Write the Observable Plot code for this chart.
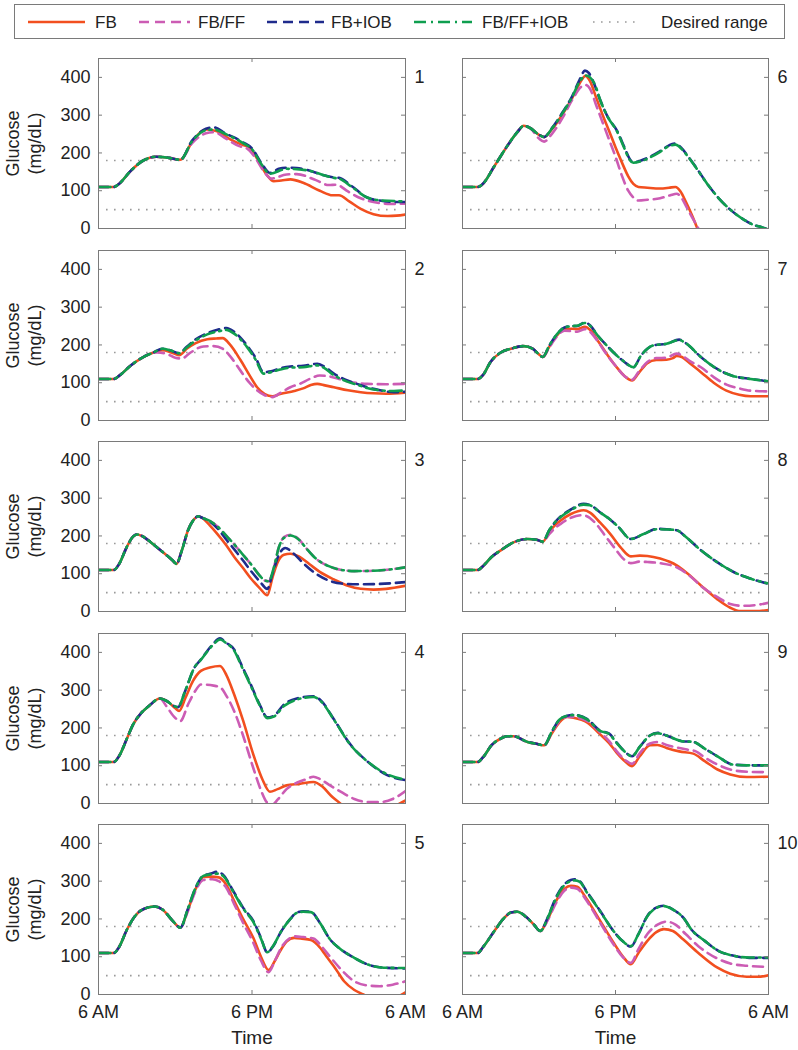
<!DOCTYPE html>
<html><head><meta charset="utf-8">
<script src="https://cdn.jsdelivr.net/npm/d3@7"></script>
<script src="https://cdn.jsdelivr.net/npm/@observablehq/plot@0.6"></script>
<style>
body{margin:0;background:#fff;font-family:"Liberation Sans",Arial,sans-serif;}
#root{position:relative;width:798px;height:1050px;overflow:hidden;}
#root svg.plot{position:absolute;}
#legend{position:absolute;left:14px;top:4px;width:771px;height:35px;border:1px solid #7a7a7a;box-sizing:border-box;background:#fff;}
</style></head>
<body><div id="root"><div id="legend"></div></div>
<script>
// ---------- series / legend ----------
const seriesNames = ["FB", "FB/FF", "FB+IOB", "FB/FF+IOB"];
const seriesColors = ["#f24f1f", "#cc5cb4", "#1f2b8c", "#0f9e4f"];
const seriesDash = [null, "10,6", "10,6", "12,5,2,5"];
const rangeName = "Desired range";
const desiredRange = [50, 180];
const yTicks = [0, 100, 200, 300, 400];
const xTicks = [0, 12, 24];
const xTickLabels = ["6 AM", "6 PM", "6 AM"];
const panelNumbers = [1, 2, 3, 4, 5, 6, 7, 8, 9, 10];

// ---------- data: [hours after 6 AM, glucose mg/dL] ----------
// Panel 1
const p1Start = [[0,110],[1.2,110],[1.6,118],[2.5,152],[3.5,180],[4.5,190],[5.5,187],[6.4,182]];
const p1FB = [[7.3,228],[8.4,262],[9.2,258],[10.3,236],[11.2,222],[11.8,215],[12.4,185],[13.2,140],[13.7,125],[14.3,127],[15.0,130],[16.0,121],[17.3,100],[18.3,88],[18.8,88],[19.6,72],[20.5,52],[21.5,38],[22.6,33],[23.3,34],[24,37]];
const p1FBFF = [[7.3,225],[8.4,252],[9.0,255],[10.0,237],[11.0,218],[11.6,212],[12.2,190],[13.0,148],[13.5,132],[14.7,143],[15.5,144],[17.0,128],[18.0,115],[18.6,116],[19.5,98],[20.5,80],[21.5,70],[22.8,65],[24,66]];
const p1FBIOB = [[7.3,232],[8.4,264],[9.0,268],[10.0,250],[10.6,241],[11.3,228],[12.0,212],[12.7,175],[13.4,147],[14.1,158],[14.7,161],[15.5,160],[16.3,155],[17.5,142],[18.4,135],[18.8,134],[19.8,112],[21.0,82],[22.2,73],[23.6,70],[24,70]];
const p1FBFFIOB = [[7.3,230],[8.4,260],[9.0,262],[10.0,249],[11.3,226],[12.0,210],[12.7,172],[13.4,145],[14.7,158],[16.3,154],[18.4,134],[18.8,132],[19.8,110],[21.0,82],[22.2,74],[24,72]];
// Panel 2
const p2Start = [[0,110],[1.2,110],[1.6,118],[2.5,145],[3.5,168],[4.3,180]];
const p2FB = [[5.0,186],[5.7,180],[6.3,173],[6.9,190],[7.6,205],[8.5,215],[9.2,217],[9.7,218],[10.3,200],[11.1,160],[11.8,120],[12.4,88],[13.0,70],[13.6,64],[14.2,70],[15.3,78],[16.0,85],[16.6,94],[17.1,97],[17.7,93],[18.4,88],[19.5,80],[20.5,75],[21.5,72],[22.5,71],[24,74]];
const p2FBFF = [[4.6,180],[5.3,177],[6.0,166],[6.5,164],[7.2,180],[8.2,196],[9.0,197],[9.7,190],[10.3,170],[11.1,132],[11.8,100],[12.4,80],[13.0,67],[13.6,62],[14.3,75],[15.0,88],[15.8,98],[16.5,110],[17.3,119],[18.0,117],[18.8,110],[19.7,102],[21.0,97],[22.5,96],[24,97]];
const p2FBIOB = [[5.0,190],[5.6,186],[6.3,178],[6.9,195],[7.6,215],[8.5,231],[9.3,240],[10.0,245],[10.6,235],[11.6,199],[12.3,165],[12.9,128],[13.5,130],[14.2,138],[15.0,143],[16.0,145],[17.1,150],[17.6,144],[18.4,124],[19.3,108],[20.2,97],[21.0,88],[22.0,80],[23.1,75],[24,76]];
const p2FBFFIOB = [[5.0,190],[5.6,186],[6.3,178],[6.9,193],[7.6,212],[8.5,228],[9.5,237],[10.0,240],[10.6,230],[11.6,195],[12.3,160],[12.9,124],[13.5,128],[14.2,135],[15.0,140],[16.0,141],[17.1,146],[17.6,140],[18.4,120],[19.3,105],[20.2,95],[21.0,86],[22.0,80],[23.1,78],[24,80]];
// Panel 3
const p3Start = [[0,110],[1.2,110],[1.6,125],[2.2,170],[2.7,198],[3.0,204],[3.4,200],[4.2,180],[5.0,158],[5.8,135],[6.1,126],[6.5,160],[7.0,215],[7.5,245],[7.8,252],[8.1,248]];
const p3FB = [[8.7,228],[9.3,205],[10.0,175],[10.6,145],[11.3,115],[11.9,88],[12.6,62],[13.2,43],[13.6,90],[14.0,130],[14.5,150],[15.0,153],[15.7,145],[16.5,125],[17.3,105],[18.4,85],[19.5,68],[20.5,60],[21.5,58],[22.5,60],[24,68]];
const p3FBFF = [[8.7,240],[9.3,225],[10.0,200],[10.6,178],[11.3,150],[11.9,126],[12.6,95],[13.0,82],[13.3,80],[13.7,115],[14.1,170],[14.5,197],[15.0,203],[15.6,193],[16.3,165],[17.0,140],[18.0,120],[19.0,110],[20.0,107],[21.5,108],[23.0,112],[24,117]];
const p3FBIOB = [[8.7,238],[9.3,220],[10.0,190],[10.6,165],[11.3,135],[11.9,108],[12.6,80],[13.2,60],[13.6,100],[14.1,150],[14.6,168],[15.2,155],[16.0,128],[17.0,100],[18.0,82],[19.0,74],[20.5,72],[22.0,73],[24,78]];
const p3FBFFIOB = [[8.7,240],[9.3,225],[10.0,200],[10.6,178],[11.3,150],[11.9,126],[12.6,95],[13.0,82],[13.3,80],[13.7,115],[14.1,170],[14.5,195],[15.0,201],[15.6,192],[16.3,165],[17.0,140],[18.0,120],[19.0,110],[20.0,107],[21.5,108],[23.0,112],[24,117]];
// Panel 4
const p4Start = [[0,110],[1.2,110],[1.6,125],[2.2,170],[2.7,209],[3.3,238],[4.0,260],[4.8,278]];
const p4FB = [[5.4,270],[6.0,252],[6.3,245],[6.8,280],[7.4,325],[8.0,351],[8.7,360],[9.5,364],[10.0,340],[10.6,289],[11.3,220],[12.1,130],[12.8,65],[13.4,31],[14.0,38],[14.7,48],[15.7,52],[16.8,57],[17.5,45],[18.2,20],[18.9,0],[19.5,-20],[21.0,-35],[22.5,-25],[23.3,-5],[24,8]];
const p4FBFF = [[5.3,258],[5.9,230],[6.4,218],[7.0,262],[7.6,300],[8.0,315],[9.0,312],[9.5,308],[10.0,285],[10.6,245],[11.3,180],[12.1,94],[12.7,35],[13.2,2],[13.6,-3],[14.0,10],[14.7,38],[15.5,55],[16.3,65],[16.8,71],[17.3,65],[18.0,50],[19.0,30],[20.0,12],[21.0,4],[22.0,4],[23.0,12],[24,33]];
const p4FBIOB = [[5.3,272],[5.9,258],[6.2,255],[6.8,300],[7.5,360],[8.0,381],[8.9,420],[9.5,437],[10.0,425],[10.6,408],[11.2,365],[11.9,315],[12.6,262],[13.2,228],[13.7,232],[14.5,262],[15.5,278],[16.8,284],[17.4,272],[18.4,223],[19.7,156],[21.0,112],[22.3,80],[23.6,64],[24,62]];
const p4FBFFIOB = [[5.3,272],[5.9,258],[6.2,255],[6.8,300],[7.5,360],[8.0,380],[8.9,418],[9.5,434],[10.0,424],[10.6,405],[11.2,362],[11.9,312],[12.6,260],[13.2,226],[13.7,230],[14.5,258],[15.5,275],[16.8,282],[17.4,270],[18.4,222],[19.7,155],[21.0,112],[22.3,82],[23.6,66],[24,64]];
// Panel 5
const p5Start = [[0,110],[1.2,110],[1.6,125],[2.2,170],[2.8,205],[3.3,222],[4.4,233],[5.0,225],[5.8,195],[6.4,177]];
const p5FB = [[7.0,225],[7.6,280],[8.2,311],[8.8,312],[9.4,310],[10.0,290],[10.6,248],[11.3,200],[12.1,150],[12.7,100],[13.3,65],[13.8,90],[14.2,115],[14.7,140],[15.3,150],[15.9,148],[16.6,144],[17.3,125],[17.9,97],[18.6,65],[19.2,35],[20.0,12],[20.7,0],[21.5,-15],[22.5,-20],[23.3,-8],[24,6]];
const p5FBFF = [[7.0,222],[7.6,275],[8.2,303],[8.9,305],[9.4,300],[10.0,282],[10.6,240],[11.3,190],[12.1,137],[12.7,90],[13.3,59],[13.8,90],[14.3,125],[15.0,150],[15.3,154],[16.0,152],[16.8,148],[17.5,125],[18.1,100],[19.0,65],[20.0,35],[21.0,24],[22.0,22],[23.0,26],[24,35]];
const p5FBIOB = [[7.0,228],[7.6,283],[8.2,315],[8.8,320],[9.3,325],[9.7,318],[10.6,270],[11.3,230],[12.1,195],[12.7,150],[13.2,111],[13.6,125],[14.3,168],[15.0,200],[15.5,217],[16.0,220],[16.6,219],[17.3,190],[18.1,146],[19.0,118],[20.0,97],[21.0,80],[22.3,71],[24,69]];
const p5FBFFIOB = [[7.0,228],[7.6,283],[8.2,314],[8.8,318],[9.3,320],[9.7,315],[10.6,268],[11.3,228],[12.1,192],[12.7,148],[13.2,112],[13.6,126],[14.3,168],[15.0,200],[15.5,216],[16.0,219],[16.6,218],[17.3,190],[18.1,146],[19.0,118],[20.0,97],[21.0,80],[22.3,71],[24,70]];
// Panel 6
const p6Start = [[0,110],[1.2,110],[1.5,115],[2.5,165],[3.5,218],[4.3,255],[4.8,272],[5.3,266]];
const p6FB = [[6.0,248],[6.4,242],[7.0,262],[7.8,300],[8.6,345],[9.2,385],[9.65,404],[10.0,390],[10.5,345],[11.0,300],[11.5,258],[12.0,215],[12.5,175],[13.0,138],[13.4,118],[13.8,110],[14.5,108],[15.5,106],[16.2,108],[16.7,110],[17.1,98],[17.5,72],[18.0,35],[18.4,2],[18.8,-30]];
const p6FBFF = [[6.0,238],[6.4,230],[7.0,250],[7.8,290],[8.6,340],[9.3,375],[9.65,380],[10.0,370],[10.5,325],[11.0,280],[11.5,235],[12.0,190],[12.5,140],[13.0,100],[13.4,82],[13.8,74],[14.5,76],[15.5,80],[16.3,88],[16.8,92],[17.2,80],[17.6,55],[18.0,30],[18.5,0],[18.9,-30]];
const p6FBIOB = [[6.0,248],[6.4,242],[7.0,265],[7.8,305],[8.6,350],[9.2,395],[9.6,418],[9.9,412],[10.3,385],[10.8,340],[11.4,295],[12.1,260],[12.7,215],[13.1,185],[13.4,175],[14.0,180],[14.7,190],[15.5,205],[16.2,220],[16.7,225],[17.2,212],[17.6,195],[18.4,158],[19.2,118],[20.1,80],[21.0,50],[22.0,25],[22.8,10],[23.5,3],[24,-3]];
const p6FBFFIOB = [[6.0,248],[6.4,242],[7.0,264],[7.8,303],[8.6,348],[9.2,390],[9.7,405],[10.0,400],[10.4,380],[10.8,340],[11.4,295],[12.1,258],[12.7,212],[13.1,182],[13.4,174],[14.0,178],[14.7,188],[15.5,203],[16.2,218],[16.7,222],[17.2,210],[17.6,194],[18.4,157],[19.2,118],[20.1,80],[21.0,50],[22.0,25],[22.8,10],[23.5,3],[24,-3]];
// Panel 7
const p7Start = [[0,110],[1.2,110],[1.6,120],[2.2,155],[3.0,180],[3.8,190],[4.8,197],[5.5,190],[6.0,175],[6.3,168]];
const p7FB = [[6.8,195],[7.4,225],[8.0,242],[8.6,243],[9.0,242],[9.6,248],[10.0,240],[10.6,212],[11.3,177],[12.0,145],[12.7,118],[13.3,106],[13.8,125],[14.5,152],[15.2,160],[16.0,161],[16.5,165],[16.8,171],[17.2,168],[17.8,152],[18.7,128],[19.7,100],[20.7,79],[21.7,68],[22.6,64],[24,64]];
const p7FBFF = [[6.8,193],[7.4,222],[8.0,238],[9.0,235],[9.6,242],[10.0,235],[10.6,210],[11.3,175],[12.0,145],[12.7,118],[13.3,108],[13.8,128],[14.5,155],[15.2,165],[16.0,166],[16.8,177],[17.2,172],[17.8,158],[18.7,141],[19.7,115],[20.7,95],[21.7,85],[22.6,79],[24,77]];
const p7FBIOB = [[6.8,198],[7.4,228],[8.0,246],[8.6,250],[9.0,250],[9.6,260],[10.0,252],[10.6,225],[11.3,199],[12.0,175],[12.7,155],[13.4,141],[14.0,172],[14.5,190],[15.0,199],[16.0,203],[17.0,214],[17.5,205],[18.7,168],[20.2,132],[21.2,118],[22.6,110],[24,104]];
const p7FBFFIOB = [[6.8,198],[7.4,228],[8.0,246],[8.6,250],[9.0,251],[9.6,258],[10.0,251],[10.6,225],[11.3,199],[12.0,175],[12.7,155],[13.4,141],[14.0,172],[14.5,190],[15.0,199],[16.0,203],[17.0,213],[17.5,205],[18.7,168],[20.2,132],[21.2,118],[22.6,110],[24,104]];
// Panel 8
const p8Start = [[0,110],[1.2,110],[1.6,120],[2.3,145],[3.0,162],[4.0,183],[5.1,192],[5.8,190],[6.3,185]];
const p8FB = [[6.8,210],[7.3,230],[7.7,241],[8.5,258],[9.5,268],[10.0,262],[10.8,235],[11.6,205],[12.4,170],[13.2,146],[13.9,148],[14.5,147],[15.5,140],[16.8,122],[17.6,102],[18.7,69],[20.0,32],[21.0,10],[21.8,1],[23.0,1],[24,4]];
const p8FBFF = [[6.8,205],[7.3,222],[7.7,232],[8.5,248],[9.3,255],[9.7,253],[10.4,235],[11.2,200],[12.0,165],[12.6,140],[13.2,128],[13.9,132],[14.5,131],[15.5,128],[16.8,117],[17.8,95],[18.8,65],[20.0,38],[21.0,20],[22.0,15],[23.0,17],[24,23]];
const p8FBIOB = [[6.8,215],[7.3,238],[7.7,252],[8.5,270],[9.5,285],[10.0,282],[10.8,262],[11.4,248],[12.2,225],[13.2,192],[14.2,205],[15.3,219],[16.2,217],[16.8,215],[17.6,195],[18.7,162],[20.0,130],[21.3,104],[22.5,88],[24,73]];
const p8FBFFIOB = [[6.8,215],[7.3,238],[7.7,250],[8.5,268],[9.5,283],[10.0,281],[10.8,262],[11.4,248],[12.2,225],[13.2,192],[14.2,205],[15.3,218],[16.2,217],[16.8,215],[17.6,195],[18.7,162],[20.0,130],[21.3,104],[22.5,88],[24,74]];
// Panel 9
const p9Start = [[0,110],[1.2,110],[1.6,122],[2.3,155],[3.0,172],[3.5,178],[4.0,178],[5.1,163],[5.8,158],[6.4,154]];
const p9FB = [[7.0,185],[7.6,215],[8.2,229],[8.7,227],[9.8,214],[10.8,183],[11.5,160],[12.1,134],[12.8,110],[13.3,99],[13.9,125],[14.7,154],[15.3,155],[16.0,147],[17.0,138],[18.1,132],[19.0,112],[20.0,90],[21.0,77],[22.3,70],[24,71]];
const p9FBFF = [[7.0,188],[7.6,218],[8.2,230],[8.7,229],[9.8,218],[10.8,188],[11.5,165],[12.1,138],[12.8,114],[13.3,105],[13.9,133],[14.7,159],[15.3,163],[16.0,155],[17.6,143],[18.3,138],[19.0,122],[20.0,103],[21.0,90],[22.3,84],[24,83]];
const p9FBIOB = [[7.0,190],[7.6,222],[8.2,232],[8.7,235],[9.8,223],[10.8,193],[11.5,185],[12.1,161],[12.8,135],[13.3,125],[13.9,150],[14.7,180],[15.3,187],[16.0,180],[17.2,165],[18.1,163],[19.0,145],[20.0,125],[21.2,103],[22.5,101],[24,101]];
const p9FBFFIOB = [[7.0,190],[7.6,222],[8.2,232],[8.7,234],[9.8,222],[10.8,192],[11.5,184],[12.1,160],[12.8,135],[13.3,125],[13.9,150],[14.7,180],[15.3,186],[16.0,180],[17.2,165],[18.1,163],[19.0,145],[20.0,125],[21.2,103],[22.5,101],[24,101]];
// Panel 10
const p10Start = [[0,110],[1.2,110],[1.6,125],[2.5,168],[3.2,200],[3.8,217],[4.3,219],[5.0,205],[5.6,185],[6.1,168]];
const p10FB = [[6.7,200],[7.3,245],[8.0,280],[8.5,288],[9.0,285],[9.7,255],[10.8,195],[11.8,140],[12.6,100],[13.2,80],[13.8,110],[14.5,142],[15.2,165],[15.8,173],[16.5,168],[17.3,146],[18.5,110],[20.0,71],[21.0,55],[22.3,47],[23.2,47],[24,51]];
const p10FBFF = [[6.7,198],[7.3,240],[8.0,275],[8.5,283],[9.0,280],[9.7,250],[10.8,190],[11.8,135],[12.6,98],[13.2,84],[13.8,120],[14.5,160],[15.3,185],[16.0,193],[16.7,185],[17.5,160],[18.5,128],[20.0,95],[21.0,82],[22.3,76],[24,73]];
const p10FBIOB = [[6.7,205],[7.3,255],[8.0,292],[8.5,303],[8.8,305],[9.2,300],[9.7,275],[10.8,221],[11.8,170],[12.6,140],[13.2,127],[13.8,160],[14.5,208],[15.2,230],[15.8,235],[16.5,225],[17.3,204],[18.0,170],[19.0,142],[20.1,115],[21.2,103],[22.5,97],[24,97]];
const p10FBFFIOB = [[6.7,204],[7.3,252],[8.0,290],[8.5,300],[8.8,302],[9.2,298],[9.7,273],[10.8,220],[11.8,170],[12.6,140],[13.2,128],[13.8,160],[14.5,207],[15.2,229],[15.8,234],[16.5,225],[17.3,204],[18.0,170],[19.0,142],[20.1,115],[21.2,103],[22.5,98],[24,98]];

const panels = [
  [p1Start, p1FB, p1FBFF, p1FBIOB, p1FBFFIOB],
  [p2Start, p2FB, p2FBFF, p2FBIOB, p2FBFFIOB],
  [p3Start, p3FB, p3FBFF, p3FBIOB, p3FBFFIOB],
  [p4Start, p4FB, p4FBFF, p4FBIOB, p4FBFFIOB],
  [p5Start, p5FB, p5FBFF, p5FBIOB, p5FBFFIOB],
  [p6Start, p6FB, p6FBFF, p6FBIOB, p6FBFFIOB],
  [p7Start, p7FB, p7FBFF, p7FBIOB, p7FBFFIOB],
  [p8Start, p8FB, p8FBFF, p8FBIOB, p8FBFFIOB],
  [p9Start, p9FB, p9FBFF, p9FBIOB, p9FBFFIOB],
  [p10Start, p10FB, p10FBFF, p10FBIOB, p10FBFFIOB]
];

// ---------- layout ----------
const FONT = '"Liberation Sans", Arial, Helvetica, sans-serif';
const frameW = [307, 306];
const colFrameLeft = [98, 462];
const frameH = 170;
const firstTop = 58, rowPitch = 191.5;
const tick = 4;
const root = document.getElementById("root");

panels.forEach((p, i) => {
  const col = i < 5 ? 0 : 1, row = i % 5;
  const bottomRow = row === 4;
  const fw = frameW[col];
  const mL = col === 0 ? 98 : 22;
  const mR = 34;
  const mT = 12;
  const mB = bottomRow ? 60 : 12;
  const svgLeft = colFrameLeft[col] - mL;
  const svgTop = Math.round(firstTop + row * rowPitch) - mT;

  const marks = [
    Plot.ruleY(desiredRange, {stroke: "#9a9a9a", strokeWidth: 1.6, strokeDasharray: "1.6,6.4", insetLeft: 8, insetRight: 4})
  ];
  seriesNames.forEach((name, k) => {
    const data = p[0].concat(p[k + 1]);
    marks.push(Plot.line(data, {
      x: d => d[0], y: d => d[1],
      stroke: seriesColors[k], strokeWidth: 2.6,
      strokeDasharray: seriesDash[k] || undefined,
      curve: "monotone-x", clip: true
    }));
  });
  marks.push(
    Plot.frame({stroke: "#7a7a7a", strokeWidth: 1}),
    Plot.ruleY(yTicks, {stroke: "#7a7a7a", insetRight: fw - tick}),
    Plot.ruleY(yTicks, {stroke: "#7a7a7a", insetLeft: fw - tick}),
    Plot.ruleX([12], {stroke: "#7a7a7a", insetBottom: frameH - tick}),
    Plot.ruleX([12], {stroke: "#7a7a7a", insetTop: frameH - tick}),
    Plot.text([panelNumbers[i]], {x: 24, y: 400, text: d => String(d), dx: 9, textAnchor: "start", lineAnchor: "middle", fontSize: 18, fill: "#222"})
  );
  if (col === 0) {
    marks.push(
      Plot.axisY({ticks: yTicks, tickSize: 0, tickPadding: 8, label: null, fontSize: 18, fill: "#222"}),
      Plot.text(["Glucose\n(mg/dL)"], {frameAnchor: "left", dx: -76, rotate: -90, lineHeight: 1.22, lineAnchor: "middle", textAnchor: "middle", fontSize: 18, fill: "#222"})
    );
  }
  if (bottomRow) {
    marks.push(
      Plot.text(xTicks, {x: d => d, text: (d, j) => xTickLabels[j], frameAnchor: "bottom", dy: 18, lineAnchor: "middle", textAnchor: "middle", fontSize: 18, fill: "#222"}),
      Plot.text(["Time"], {frameAnchor: "bottom", dy: 43, lineAnchor: "middle", textAnchor: "middle", fontSize: 19, fill: "#222"})
    );
  }
  const chart = Plot.plot({
    width: mL + fw + mR,
    height: mT + frameH + mB,
    marginLeft: mL, marginRight: mR, marginTop: mT, marginBottom: mB,
    style: {fontFamily: FONT, fontSize: "18px", background: "transparent", color: "#222", overflow: "visible"},
    x: {domain: [0, 24], axis: null},
    y: {domain: [0, 450], axis: null},
    marks
  });
  chart.classList.add("plot");
  chart.style.left = svgLeft + "px";
  chart.style.top = svgTop + "px";
  root.appendChild(chart);
});

// ---------- legend ----------
const legendItems = seriesNames.concat([rangeName]);
const legendLineX = [[13, 70], [124, 175], [252, 309], [399, 457], [578, 625]];
const legendTextX = [80, 183, 316, 467, 646];
const lsvg = d3.select("#legend").append("svg").attr("width", 769).attr("height", 33)
  .style("font-family", FONT).style("font-size", "17px");
legendItems.forEach((name, k) => {
  const isRange = k === 4;
  lsvg.append("line")
    .attr("x1", legendLineX[k][0]).attr("x2", legendLineX[k][1])
    .attr("y1", 17).attr("y2", 17)
    .attr("stroke", isRange ? "#9a9a9a" : seriesColors[k])
    .attr("stroke-width", isRange ? 1.6 : 2.6)
    .attr("stroke-dasharray", isRange ? "1.6,6.4" : (seriesDash[k] || null));
  lsvg.append("text").attr("x", legendTextX[k]).attr("y", 17).attr("dy", "0.35em")
    .attr("fill", "#222").text(name);
});
</script>
</body></html>
